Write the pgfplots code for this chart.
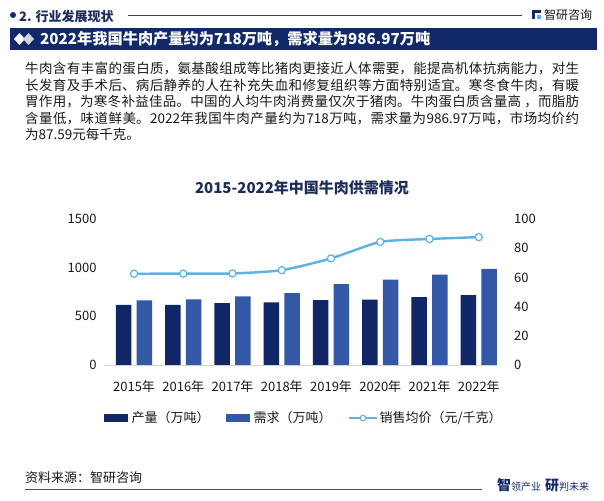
\documentclass[border=0pt]{standalone}
\usepackage{pgfplots}
\pgfplotsset{compat=1.18}
\usepackage{fontspec}
\setmainfont{Noto Sans CJK SC}
\XeTeXlinebreaklocale "zh"
\XeTeXlinebreakskip=0pt plus 4pt
\definecolor{navy}{RGB}{17,41,104}
\definecolor{prod}{RGB}{16,38,103}
\definecolor{dem}{RGB}{50,88,166}
\definecolor{price}{RGB}{92,178,226}
\definecolor{txt}{RGB}{25,25,25}
\definecolor{ttl}{RGB}{30,44,92}
\newcommand{\fs}[1]{\fontsize{#1}{#1}\selectfont}
\begin{document}
\begin{tikzpicture}[x=1pt,y=1pt]
\useasboundingbox (0,0) rectangle (604,500);
\fill[white] (0,0) rectangle (604,500);
% header
\fill[navy] (13,485) circle (3);
\node[anchor=west,inner sep=0pt,font=\fs{13}\bfseries,text=ttl] at (19,483.5) {2. 行业发展现状};
\draw[black!75,line width=0.8pt] (128,485) -- (522,485);
\fill[navy] (532,481) rectangle (535,490);
\fill[navy] (532,487) rectangle (541,490);
\fill[price] (537,481) rectangle (541,485);
\node[anchor=west,inner sep=0pt,font=\fs{12},text=txt] at (544,485) {智研咨询};
% banner
\fill[navy] (10,450) rectangle (597,472);
\fill[white] (14,461) -- (19.5,467) -- (25,461) -- (19.5,455) -- cycle;
\fill[white!80!navy] (23,461) -- (28.5,467) -- (34,461) -- (28.5,455) -- cycle;
\node[anchor=west,inner sep=0pt,font=\fs{15.2}\bfseries,text=white] at (40,461) {2022年我国牛肉产量约为718万吨，需求量为986.97万吨};
% paragraph
\node[anchor=north west,inner sep=0pt,text width=554pt,align=justify,font=\fontsize{13.5}{16.5}\selectfont,text=txt] at (25,438) {牛肉含有丰富的蛋白质，氨基酸组成等比猪肉更接近人体需要，能提高机体抗病能力，对生\linebreak 长发育及手术后、病后静养的人在补充失血和修复组织等方面特别适宜。寒冬食牛肉，有暖\linebreak 胃作用，为寒冬补益佳品。中国的人均牛肉消费量仅次于猪肉。牛肉蛋白质含量高 ，而脂肪\linebreak 含量低，味道鲜美。2022年我国牛肉产量约为718万吨，需求量为986.97万吨，市场均价约\linebreak 为87.59元每千克。};
% chart title
\node[font=\fs{15}\bfseries,text=ttl] at (302,312) {2015-2022年中国牛肉供需情况};
% bars
\begin{axis}[
 at={(104pt,135pt)}, anchor=south west,
 width=394pt, height=146pt, scale only axis,
 xmin=-0.61, xmax=7.39, ymin=0, ymax=1500,
 ybar, bar width=15.5pt,
 axis x line*=bottom, axis y line*=left,
 x axis line style={draw=gray!35, line width=0.8pt, -},
 y axis line style={draw=none},
 xtick={0,...,7},
 xticklabels={2015年,2016年,2017年,2018年,2019年,2020年,2021年,2022年},
 ytick={0,500,1000,1500},
 major tick length=0pt, tick style={draw=none},
 tick label style={font=\fs{13}, text=txt},
 /pgf/number format/assume math mode=true,
 /pgf/number format/set thousands separator={},
 scaled y ticks=false,
 yticklabel style={xshift=-4pt},
 xticklabel style={yshift=-12pt},
 legend style={at={(0,-0.363)}, anchor=west, draw=none, fill=none,
   inner sep=0pt, outer sep=0pt,
   legend columns=3, font=\fs{13}, text=txt,
   /tikz/every even column/.append style={column sep=15pt},
   nodes={inner sep=1.5pt}},
]
\addplot[fill=prod, draw=none, bar shift=-10.3pt,
  legend image code/.code={\fill[prod] (0pt,-4pt) rectangle (24pt,4pt);}]
  coordinates {(0,616.9) (1,616.9) (2,634.6) (3,644.1) (4,667.3) (5,672.4) (6,697.5) (7,718)};
\addplot[fill=dem, draw=none, bar shift=10.3pt,
  legend image code/.code={\fill[dem] (0pt,-4pt) rectangle (24pt,4pt);}]
  coordinates {(0,663) (1,673) (2,704) (3,739) (4,832) (5,876) (6,928) (7,986.97)};
\addlegendimage{legend image code/.code={\draw[price,line width=2pt] (0pt,0pt) -- (28pt,0pt); \draw[price,fill=white,line width=1pt] (14pt,0pt) circle (2.8pt);}}
\legend{\hspace{2pt}产量（万吨）,\hspace{2pt}需求（万吨）,销售均价（元/千克）}
\end{axis}
% price line
\begin{axis}[
 at={(104pt,135pt)}, anchor=south west,
 width=394pt, height=146pt, scale only axis,
 xmin=-0.61, xmax=7.39, ymin=0, ymax=100,
 axis x line*=bottom, axis y line*=right,
 x axis line style={draw=none}, xtick=\empty,
 y axis line style={draw=none},
 ytick={0,20,40,60,80,100},
 major tick length=0pt, tick style={draw=none},
 tick label style={font=\fs{13}, text=txt},
 /pgf/number format/assume math mode=true,
 yticklabel style={xshift=12.7pt},
]
\addplot[price, line width=2.4pt, smooth, tension=0.35, mark=*, mark size=3.6pt,
  mark options={fill=white, draw=price, line width=1.2pt}]
  coordinates {(0,62.5) (1,62.6) (2,62.7) (3,64.9) (4,73.0) (5,84.3) (6,86.3) (7,87.59)};
\end{axis}
% footer
\node[anchor=west,inner sep=0pt,font=\fs{13},text=txt] at (25,22) {资料来源：智研咨询};
\draw[black!70,line width=0.9pt] (25,11) -- (482,11);
\node[anchor=west,inner sep=0pt,text=navy] at (497,15) {{\fs{14}\bfseries 智}{\fs{10}领产业}\hspace{4pt}{\fs{14}\bfseries 研}{\fs{10}判未来}};
\end{tikzpicture}
\end{document}
